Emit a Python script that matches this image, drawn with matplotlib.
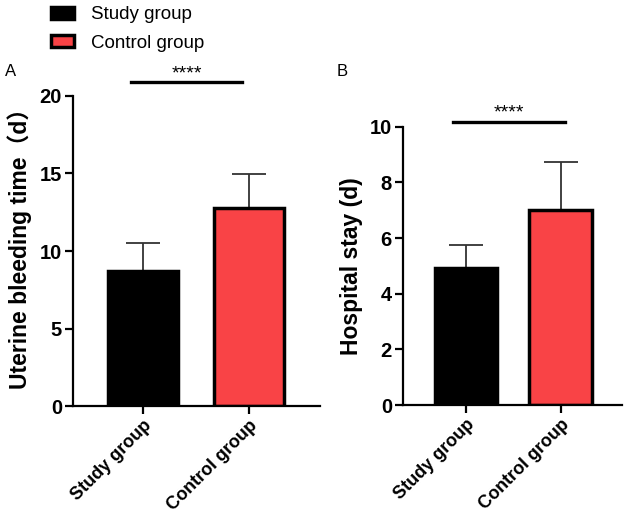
import matplotlib
matplotlib.use("Agg")
import matplotlib.pyplot as plt
from matplotlib.patches import Patch

plt.rcParams['font.family'] = ['Liberation Sans', 'Noto Sans CJK SC', 'DejaVu Sans']

# 数据
groups = ["Study group", "Control group"]
bleed_mean = [8.7, 12.8]
bleed_sd = [1.8, 2.15]
stay_mean = [4.93, 7.0]
stay_sd = [0.83, 1.74]
colors = ["#000000", "#F94346"]
sig_text = "****"


def draw_panel(ax, means, sds, ymax, ystep, ylabel, sig_y, sig_x, label_size):
    x = list(range(len(groups)))
    ax.bar(x, means, width=0.66, color=colors, edgecolor="black", linewidth=2.5, zorder=2)
    ax.errorbar(x, means, yerr=[[0, 0], sds], fmt="none", ecolor="#333333",
                elinewidth=1.3, capsize=12, capthick=1.3, zorder=1)
    ax.set_ylim(0, ymax)
    ax.set_yticks(range(0, ymax + 1, ystep))
    ax.set_xticks(x)
    ax.set_xticklabels(groups, rotation=45, ha="right", rotation_mode="anchor",
                       fontsize=13, fontweight="bold")
    for t in ax.get_yticklabels():
        t.set_fontweight("bold")
        t.set_fontsize(14.5)
    ax.set_ylabel(ylabel, fontsize=label_size, fontweight="bold", labelpad=5)
    for s in ["top", "right"]:
        ax.spines[s].set_visible(False)
    for s in ["left", "bottom"]:
        ax.spines[s].set_linewidth(1.6)
    ax.tick_params(width=1.6, length=6, pad=2)
    # 显著性标记
    ax.plot(sig_x, [sig_y, sig_y], color="black", lw=2.4, clip_on=False)
    ax.text(sum(sig_x) / 2, sig_y, sig_text, ha="center", va="bottom",
            fontsize=14)


fig = plt.figure(figsize=(6.25, 5.22), dpi=100)
axA = fig.add_axes([0.1168, 0.2222, 0.3952, 0.5939])
axB = fig.add_axes([0.6448, 0.2241, 0.3504, 0.5332])

draw_panel(axA, bleed_mean, bleed_sd, 20, 5, "Uterine bleeding time（d）", 20.9, [-0.11, 0.93], 16.5)
axA.set_xlim(-0.66, 1.67)
axA.yaxis.set_label_coords(-0.165, 0.525)
draw_panel(axB, stay_mean, stay_sd, 10, 2, "Hospital stay (d)", 10.18, [-0.14, 1.05], 16.5)
axB.set_xlim(-0.667, 1.65)

fig.text(0.008, 0.855, "A", fontsize=12)
fig.text(0.538, 0.855, "B", fontsize=12)

handles = [Patch(facecolor=c, edgecolor="black", linewidth=2.5) for c in colors]
fig.legend(handles, groups, loc="upper left", bbox_to_anchor=(0.054, 1.02),
           frameon=False, fontsize=13.5, handlelength=1.25, handleheight=0.6,
           labelspacing=0.6, handletextpad=0.9)

fig.savefig("out.png", dpi=100)
